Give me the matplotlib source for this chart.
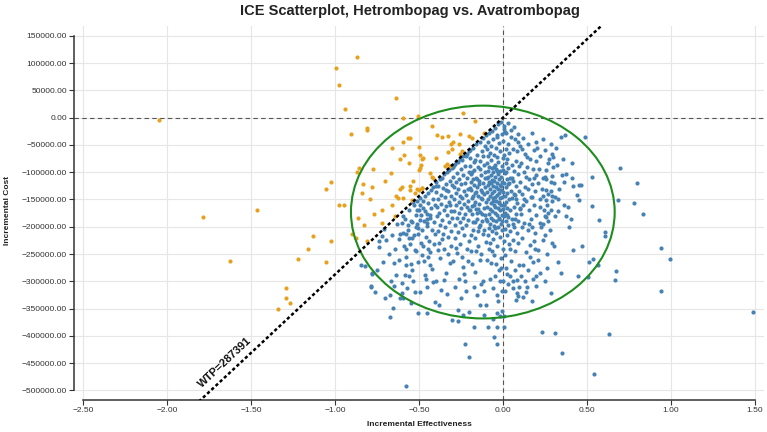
import numpy as np
import matplotlib
matplotlib.use("Agg")
import matplotlib.pyplot as plt
from matplotlib.patches import Ellipse
from matplotlib.ticker import FuncFormatter

plt.rcParams['font.family'] = ['Liberation Sans', 'DejaVu Sans']

# ---------------- data ----------------
title = "ICE Scatterplot, Hetrombopag vs. Avatrombopag"
x_label = "Incremental Effectiveness"
y_label = "Incremental Cost"
wtp = 287391
wtp_label = "WTP=287391"
x_ticks = [-2.5, -2.0, -1.5, -1.0, -0.5, 0.0, 0.5, 1.0, 1.5]
y_ticks = [150000, 100000, 50000, 0, -50000, -100000, -150000, -200000,
           -250000, -300000, -350000, -400000, -450000, -500000]

# confidence ellipse (centre in effect / cost units, full width / height)
ellipse_center = (-0.12, -173000)
ellipse_width = 1.57
ellipse_height = 390000

# simulated pairs (incremental effectiveness, incremental cost in thousands)
pts_upper_left = [
    (-2.048, -4.2), (-0.867, 111.6), (-0.992, 90.9), (-0.976, 59.3), (-0.940, 15.4),
    (-0.639, 36.6), (-0.905, -29.8), (-0.810, -19.4), (-0.810, -23.0), (-0.857, -92.5),
    (-0.867, -98.8), (-0.776, -93.3), (-0.659, -54.9), (-0.667, -100.6), (-0.704, -116.4),
    (-0.831, -120.7), (-1.025, -117.6), (-1.052, -131.0), (-0.839, -138.3), (-0.792, -148.7),
    (-0.976, -161.0), (-0.946, -160.2), (-0.639, -142.7), (-0.659, -159.7), (-0.719, -170.1),
    (-0.766, -177.4), (-0.863, -184.7), (-1.466, -170.1), (-1.786, -182.9), (-0.593, 0.0),
    (-0.593, -44.4), (-0.567, -36.6), (-0.552, -37.1), (-0.502, -54.1), (-0.591, -67.7),
    (-0.611, -75.0), (-0.480, -75.0), (-0.561, -82.3), (-0.488, -87.1), (-0.492, -91.4),
    (-0.502, -95.7), (-0.534, -115.8), (-0.554, -124.4), (-0.603, -126.2), (-0.611, -131.0),
    (-0.514, -131.0), (-0.500, -133.5), (-0.480, -129.1), (-0.554, -133.5), (-0.524, -138.3),
    (-0.623, -148.1), (-0.593, -147.4), (-0.543, -150.5), (-0.825, -196.3), (-0.643, -179.8),
    (-0.720, -193.2), (-0.897, -214.0), (-0.875, -221.3), (-0.810, -226.8), (-1.024, -226.8),
    (-1.133, -216.9), (-1.163, -240.7), (-1.220, -259.0), (-1.052, -264.5), (-1.290, -312.7),
    (-1.292, -331.0), (-1.270, -339.5), (-1.338, -351.2), (-1.625, -263.4), (-0.167, -6.0),
    (-0.236, 9.1), (-0.504, 3.1), (-0.425, -15.2), (-0.391, -31.1), (-0.256, -29.8),
    (-0.111, -27.4), (-0.296, -43.9), (-0.308, -48.1), (-0.260, -48.7), (-0.183, -37.7),
    (-0.246, -60.4), (-0.256, -67.0), (-0.305, -57.2), (-0.326, -62.2), (-0.400, -74.3),
    (-0.335, -85.2), (-0.345, -87.8), (-0.315, -87.8), (-0.478, -74.3), (-0.435, -101.7),
    (-0.425, -107.9), (-0.415, -110.8), (-0.484, -129.1), (-0.326, -33.5), (-0.365, -34.7),
    (-0.202, -33.5), (-0.494, -68.2), (-0.782, -126.2),
]

pts_right_tail = [
    (0.343, -35.9), (0.369, -31.1), (0.486, -35.9), (0.290, -66.4), (0.296, -71.3),
    (0.266, -82.3), (0.321, -87.1), (0.413, -82.3), (0.698, -92.0), (0.256, -95.7),
    (0.240, -110.8), (0.248, -107.9), (0.293, -107.2), (0.349, -105.4), (0.373, -102.4),
    (0.532, -107.9), (0.365, -117.6), (0.419, -124.4), (0.450, -123.1), (0.464, -123.6),
    (0.798, -118.9), (0.258, -133.5), (0.284, -134.6), (0.258, -150.5), (0.240, -144.5),
    (0.290, -144.5), (0.310, -146.3), (0.329, -148.7), (0.290, -153.6), (0.439, -141.4),
    (0.450, -150.5), (0.683, -150.5), (0.780, -156.0), (0.532, -162.8), (0.833, -177.4),
    (0.220, -163.9), (0.260, -160.2), (0.286, -168.8), (0.329, -171.2), (0.389, -163.3),
    (0.375, -181.1), (0.405, -185.8), (0.310, -179.8), (0.248, -181.1), (0.236, -194.4),
    (0.220, -193.1), (0.270, -190.2), (0.256, -182.9), (0.573, -187.7), (0.609, -210.3),
    (0.607, -216.4), (0.304, -234.7), (0.468, -235.9), (0.415, -242.0), (0.940, -238.3),
    (0.996, -259.0), (0.329, -263.9), (0.264, -276.2), (0.347, -284.6), (0.512, -263.9),
    (0.538, -259.0), (0.567, -270.7), (0.446, -290.8), (0.508, -292.6), (0.671, -280.4),
    (0.669, -296.8), (0.938, -318.2), (0.286, -321.9), (1.488, -355.4), (0.230, -392.5),
    (0.307, -393.8), (0.633, -396.2), (0.353, -432.2), (0.540, -470.6), (0.210, -243.3),
    (0.305, -120.0), (0.318, -55.0), (0.335, -130.0), (0.355, -75.0), (0.362, -160.0),
    (0.395, -200.0), (0.410, -110.0),
]

pts_lower_tail = [
    (-0.576, -492.0), (-0.200, -439.0), (-0.224, -415.7), (-0.034, -415.7), (-0.052, -402.4),
    (-0.173, -384.6), (-0.087, -384.1), (-0.034, -383.4), (0.004, -383.4), (-0.306, -370.6),
    (-0.266, -371.8), (-0.270, -353.0), (-0.236, -360.9), (-0.200, -356.7), (-0.115, -361.4),
    (-0.058, -368.2), (-0.034, -357.8), (-0.018, -364.0), (-0.004, -354.8), (0.006, -362.7),
    (-0.508, -358.5), (-0.450, -358.5), (-0.673, -364.5), (-0.657, -348.1), (-0.405, -337.6),
    (-0.383, -342.6), (-0.137, -342.6), (-0.103, -343.9), (-0.032, -335.3), (-0.673, -324.3),
    (-0.603, -321.2), (-0.335, -322.5), (-0.786, -309.1), (-0.736, -237.3), (-0.738, -226.8),
    (-0.845, -269.4), (-0.823, -272.5), (-0.778, -284.6), (-0.713, -265.2), (-0.649, -266.3),
    (-0.577, -269.4), (-0.548, -268.1), (-0.639, -289.0), (-0.583, -289.0), (-0.534, -300.0),
    (-0.603, -302.9), (-0.647, -309.1), (-0.466, -289.0), (-0.444, -256.1), (0.171, -336.5),
    (0.075, -333.4), (0.087, -327.4), (0.117, -328.5), (0.061, -312.0), (0.081, -321.2),
    (0.137, -319.3), (0.143, -310.2), (0.195, -290.8), (0.196, -309.1),
    (-0.577, -240.7), (-0.516, -245.1), (-0.722, -216.4), (-0.659, -215.1), (-0.617, -223.1),
    (-0.611, -214.0), (-0.593, -212.2), (-0.576, -213.3), (-0.558, -220.6), (-0.540, -221.3),
    (-0.528, -215.1), (-0.506, -214.0), (-0.486, -229.2), (-0.629, -194.4), (-0.603, -193.1),
    (-0.564, -196.3), (-0.544, -192.0), (-0.510, -194.4), (-0.494, -187.1), (-0.454, -185.8),
    (-0.450, -193.1), (-0.538, -155.5), (-0.514, -170.1), (-0.498, -170.1), (-0.474, -165.7),
    (-0.454, -176.1), (-0.435, -177.9), (-0.708, -204.1), (-0.504, -202.3),
    (-0.695, -225.0), (-0.680, -250.0), (-0.665, -300.0), (-0.640, -240.0), (-0.620, -260.0),
    (-0.612, -330.0), (-0.750, -280.0), (-0.760, -320.0), (-0.700, -330.0),
    (-0.788, -309.7), (-0.778, -285.9),
]

pts_core_left = [
    (-0.598, -180), (-0.590, -236), (-0.582, -185), (-0.575, -255), (-0.568, -205),
    (-0.561, -170), (-0.553, -232), (-0.546, -190), (-0.539, -280), (-0.532, -160),
    (-0.525, -243), (-0.518, -178), (-0.511, -152), (-0.505, -265), (-0.596, -330),
    (-0.571, -312), (-0.545, -340), (-0.522, -320), (-0.560, -290), (-0.515, -200),
    (-0.497, -148), (-0.492, -161), (-0.488, -178), (-0.483, -205), (-0.479, -236),
    (-0.476, -152), (-0.471, -189), (-0.468, -262), (-0.465, -144), (-0.462, -171),
    (-0.458, -218), (-0.455, -198), (-0.451, -310), (-0.447, -139), (-0.444, -157),
    (-0.441, -226), (-0.437, -183), (-0.433, -247), (-0.430, -133), (-0.427, -166),
    (-0.424, -205), (-0.421, -278), (-0.418, -128), (-0.415, -149), (-0.412, -192),
    (-0.409, -231), (-0.406, -160), (-0.403, -214), (-0.401, -125), (-0.494, -320),
    (-0.461, -295), (-0.436, -270), (-0.417, -302), (-0.448, -241), (-0.485, -252),
    (-0.398, -118), (-0.396, -137), (-0.394, -164), (-0.391, -181), (-0.389, -207),
    (-0.387, -126), (-0.384, -150), (-0.381, -229), (-0.379, -174), (-0.377, -113),
    (-0.374, -196), (-0.372, -258), (-0.369, -141), (-0.367, -158), (-0.364, -110),
    (-0.362, -187), (-0.359, -213), (-0.357, -129), (-0.354, -170), (-0.352, -241),
    (-0.349, -104), (-0.347, -146), (-0.344, -201), (-0.342, -162), (-0.339, -285),
    (-0.337, -121), (-0.334, -178), (-0.331, -99), (-0.329, -219), (-0.327, -135),
    (-0.324, -154), (-0.322, -192), (-0.319, -96), (-0.317, -266), (-0.314, -116),
    (-0.312, -171), (-0.309, -143), (-0.307, -208), (-0.304, -92), (-0.302, -184),
    (-0.396, -300), (-0.371, -315), (-0.353, -297), (-0.326, -250), (-0.311, -236),
    (-0.388, -243), (-0.341, -132), (-0.316, -160), (-0.366, -223), (-0.305, -124),
]

pts_core_mid_left = [
    (-0.298, -90), (-0.296, -108), (-0.294, -127), (-0.292, -149), (-0.290, -171),
    (-0.288, -196), (-0.286, -85), (-0.284, -221), (-0.282, -118), (-0.280, -139),
    (-0.278, -160), (-0.276, -183), (-0.274, -101), (-0.272, -248), (-0.270, -130),
    (-0.268, -209), (-0.266, -82), (-0.264, -154), (-0.262, -175), (-0.260, -113),
    (-0.258, -191), (-0.256, -143), (-0.254, -232), (-0.252, -95), (-0.250, -166),
    (-0.248, -122), (-0.246, -203), (-0.244, -77), (-0.242, -148), (-0.240, -184),
    (-0.238, -106), (-0.236, -274), (-0.234, -135), (-0.232, -158), (-0.230, -215),
    (-0.228, -88), (-0.226, -177), (-0.224, -120), (-0.222, -141), (-0.220, -196),
    (-0.218, -70), (-0.216, -163), (-0.214, -240), (-0.212, -110), (-0.210, -187),
    (-0.208, -131), (-0.206, -152), (-0.204, -99), (-0.202, -170), (-0.201, -226),
    (-0.297, -262), (-0.285, -310), (-0.261, -295), (-0.249, -330), (-0.233, -287),
    (-0.219, -318), (-0.211, -262), (-0.279, -238), (-0.243, -256), (-0.227, -300),
    (-0.289, -86), (-0.257, -76), (-0.237, -71), (-0.215, -66), (-0.205, -62),
    (-0.199, -60), (-0.197, -74), (-0.195, -89), (-0.193, -103), (-0.191, -118),
    (-0.189, -133), (-0.187, -147), (-0.185, -162), (-0.183, -176), (-0.181, -191),
    (-0.179, -55), (-0.177, -206), (-0.175, -82), (-0.173, -124), (-0.171, -96),
    (-0.169, -139), (-0.167, -154), (-0.165, -221), (-0.163, -110), (-0.161, -168),
    (-0.159, -49), (-0.157, -185), (-0.155, -69), (-0.153, -127), (-0.151, -143),
    (-0.149, -235), (-0.147, -91), (-0.145, -200), (-0.143, -158), (-0.141, -116),
    (-0.139, -45), (-0.137, -173), (-0.135, -79), (-0.133, -250), (-0.131, -132),
    (-0.129, -105), (-0.127, -189), (-0.125, -150), (-0.123, -62), (-0.121, -214),
    (-0.119, -120), (-0.117, -38), (-0.115, -165), (-0.113, -86), (-0.111, -140),
    (-0.109, -179), (-0.107, -99), (-0.105, -52), (-0.103, -228), (-0.101, -155),
    (-0.198, -170), (-0.192, -244), (-0.188, -215), (-0.184, -268), (-0.178, -112),
    (-0.174, -160), (-0.168, -191), (-0.164, -283), (-0.158, -136), (-0.154, -174),
    (-0.148, -208), (-0.144, -121), (-0.138, -260), (-0.134, -196), (-0.128, -148),
    (-0.124, -177), (-0.118, -299), (-0.114, -205), (-0.108, -127), (-0.104, -186),
    (-0.196, -129), (-0.186, -100), (-0.176, -144), (-0.166, -77), (-0.156, -113),
    (-0.146, -168), (-0.136, -95), (-0.126, -137), (-0.116, -71), (-0.106, -110),
    (-0.172, -310), (-0.152, -325), (-0.132, -305), (-0.112, -318), (-0.162, -245),
]

pts_core_centre = [
    (-0.099, -32), (-0.098, -58), (-0.097, -84), (-0.096, -111), (-0.095, -137),
    (-0.094, -163), (-0.093, -189), (-0.092, -215), (-0.091, -45), (-0.090, -71),
    (-0.089, -97), (-0.088, -124), (-0.087, -150), (-0.086, -176), (-0.085, -202),
    (-0.084, -241), (-0.083, -29), (-0.082, -118), (-0.081, -91), (-0.080, -143),
    (-0.079, -167), (-0.078, -194), (-0.077, -64), (-0.076, -229), (-0.075, -130),
    (-0.074, -105), (-0.073, -156), (-0.072, -183), (-0.071, -52), (-0.070, -266),
    (-0.069, -78), (-0.068, -139), (-0.067, -115), (-0.066, -208), (-0.065, -171),
    (-0.064, -24), (-0.063, -93), (-0.062, -148), (-0.061, -125), (-0.060, -187),
    (-0.059, -40), (-0.058, -222), (-0.057, -100), (-0.056, -160), (-0.055, -134),
    (-0.054, -68), (-0.053, -198), (-0.052, -117), (-0.051, -252), (-0.050, -175),
    (-0.049, -86), (-0.048, -145), (-0.047, -19), (-0.046, -109), (-0.045, -164),
    (-0.044, -56), (-0.043, -212), (-0.042, -128), (-0.041, -190), (-0.040, -95),
    (-0.039, -153), (-0.038, -35), (-0.037, -120), (-0.036, -178), (-0.035, -73),
    (-0.034, -235), (-0.033, -142), (-0.032, -104), (-0.031, -166), (-0.030, -12),
    (-0.029, -201), (-0.028, -131), (-0.027, -82), (-0.026, -157), (-0.025, -113),
    (-0.024, -280), (-0.023, -184), (-0.022, -47), (-0.021, -138), (-0.020, -219),
    (-0.019, -97), (-0.018, -170), (-0.017, -124), (-0.016, -61), (-0.015, -148),
    (-0.014, -195), (-0.013, -8), (-0.012, -108), (-0.011, -258), (-0.010, -160),
    (-0.009, -133), (-0.008, -88), (-0.007, -179), (-0.006, -30), (-0.005, -145),
    (-0.004, -118), (-0.003, -206), (-0.002, -74), (-0.001, -168), (-0.0005, -240),
    (-0.093, -260), (-0.079, -295), (-0.062, -312), (-0.045, -290), (-0.033, -325),
    (-0.018, -300), (-0.008, -318), (-0.066, -245), (-0.041, -268), (-0.014, -275),
    (-0.087, -108), (-0.058, -152), (-0.037, -98), (-0.026, -185), (-0.011, -126),
    (-0.069, -120), (-0.047, -203), (-0.023, -154), (-0.004, -190), (-0.055, -90),
    (-0.038, -31.0), (0.012, -26.7),
]

pts_core_right = [
    (0.001, -42), (0.002, -96), (0.003, -137), (0.004, -181), (0.005, -226),
    (0.006, -15), (0.007, -119), (0.008, -160), (0.009, -68), (0.010, -204),
    (0.011, -143), (0.012, -102), (0.013, -251), (0.014, -174), (0.015, -57),
    (0.016, -128), (0.017, -190), (0.018, -84), (0.019, -155), (0.020, -28),
    (0.021, -215), (0.022, -112), (0.023, -166), (0.024, -75), (0.025, -139),
    (0.026, -287), (0.027, -197), (0.028, -48), (0.029, -122), (0.030, -182),
    (0.032, -93), (0.034, -150), (0.036, -232), (0.038, -65), (0.040, -170),
    (0.042, -110), (0.044, -208), (0.046, -35), (0.048, -134), (0.050, -262),
    (0.052, -86), (0.054, -186), (0.056, -147), (0.058, -58), (0.060, -224),
    (0.062, -117), (0.064, -163), (0.066, -98), (0.068, -200), (0.070, -40),
    (0.072, -141), (0.074, -245), (0.076, -79), (0.078, -176), (0.080, -125),
    (0.082, -62), (0.084, -212), (0.086, -156), (0.088, -104), (0.090, -189),
    (0.092, -30), (0.094, -135), (0.096, -270), (0.098, -88), (0.099, -168),
    (0.003, -300), (0.011, -318), (0.019, -275), (0.031, -305), (0.043, -290),
    (0.057, -300), (0.069, -280), (0.083, -297), (0.095, -310), (0.007, -20),
    (0.027, -10), (0.047, -22), (0.065, -18), (0.087, -45), (0.015, -100),
    (0.037, -120), (0.059, -195), (0.079, -150), (0.005, -160), (0.041, -240),
    (0.063, -140), (0.091, -230), (0.024, -178), (0.052, -110), (0.071, -185),
    (0.101, -52), (0.104, -118), (0.107, -176), (0.110, -84), (0.113, -140),
    (0.116, -221), (0.119, -37), (0.122, -161), (0.125, -100), (0.128, -193),
    (0.131, -66), (0.134, -128), (0.137, -247), (0.140, -152), (0.143, -90),
    (0.146, -205), (0.149, -48), (0.152, -170), (0.155, -113), (0.158, -233),
    (0.161, -75), (0.164, -145), (0.167, -186), (0.170, -28), (0.173, -122),
    (0.176, -265), (0.179, -95), (0.182, -160), (0.185, -60), (0.188, -212),
    (0.191, -135), (0.194, -105), (0.197, -178), (0.199, -44),
    (0.106, -290), (0.118, -270), (0.133, -300), (0.148, -280), (0.163, -255),
    (0.178, -295), (0.192, -240), (0.112, -200), (0.127, -150), (0.141, -73),
    (0.156, -195), (0.171, -146), (0.186, -110), (0.103, -165), (0.138, -108),
    (0.175, -200), (0.115, -58), (0.150, -130), (0.183, -226), (0.196, -80),
    (0.203, -55), (0.208, -120), (0.213, -95), (0.218, -150), (0.223, -70),
    (0.228, -200), (0.233, -130), (0.238, -40), (0.243, -170), (0.248, -215),
    (0.253, -60), (0.258, -112), (0.263, -250), (0.268, -140), (0.273, -75),
    (0.278, -205), (0.283, -118), (0.288, -48), (0.293, -230), (0.298, -90),
    (0.206, -260), (0.221, -285), (0.236, -225), (0.251, -300), (0.266, -175),
]

# ---------------- figure ----------------
all_pts = np.array(pts_upper_left + pts_right_tail + pts_lower_tail + pts_core_left
                   + pts_core_mid_left + pts_core_centre + pts_core_right, dtype=float)
effect = all_pts[:, 0]
cost = all_pts[:, 1] * 1000.0
not_ce = cost > wtp * effect   # above the WTP threshold

W, H = 767, 432
fig = plt.figure(figsize=(W / 100, H / 100), dpi=100)
ax = fig.add_axes([74 / W, 1 - 400 / H, (764 - 74) / W, (400 - 26) / H])
ax.set_xlim(-2.554, 1.554)
ax.set_ylim(-517500, 168000)

ax.set_xticks(x_ticks)
ax.set_yticks(y_ticks)
fmt = FuncFormatter(lambda v, p: f"{v:.2f}".replace('-', '\u2212'))
ax.xaxis.set_major_formatter(fmt)
ax.yaxis.set_major_formatter(fmt)
ax.grid(True, color='#e6e6e6', lw=0.8, zorder=0)
ax.set_axisbelow(True)
for s in ['top', 'right']:
    ax.spines[s].set_visible(False)
for s in ['left', 'bottom']:
    ax.spines[s].set_color('#333333')
    ax.spines[s].set_linewidth(1.1)
ax.spines['left'].set_bounds(min(y_ticks), max(y_ticks))
ax.spines['bottom'].set_bounds(min(x_ticks), max(x_ticks))
ax.tick_params(length=3.5, width=0.8, color='#333333', labelsize=6,
               labelcolor='#333333', pad=1.5)

ax.axhline(0, color='#555555', lw=0.8, ls=(0, (4, 3)), zorder=1.5)
ax.axvline(0, color='#555555', lw=0.8, ls=(0, (4, 3)), zorder=1.5)

ax.scatter(effect[~not_ce], cost[~not_ce], s=9, c='#4682b4', lw=0, zorder=3)
ax.scatter(effect[not_ce], cost[not_ce], s=9, c='#e6a11f', lw=0, zorder=3)

ax.add_patch(Ellipse(ellipse_center, ellipse_width, ellipse_height, fill=False,
                     ec='#1e8c1e', lw=1.5, zorder=4))

xl = np.array(ax.get_xlim())
ax.plot(xl, wtp * xl, color='black', lw=1.8, dashes=(1.3, 1.0), zorder=5)

p0 = ax.transData.transform((0, 0))
p1 = ax.transData.transform((1, wtp))
angle = np.degrees(np.arctan2(p1[1] - p0[1], p1[0] - p0[0]))
x0 = -1.76
ax.annotate(wtp_label, xy=(x0, wtp * x0), xytext=(-3, 3), textcoords='offset points',
            rotation=angle, rotation_mode='anchor', ha='left', va='bottom',
            fontsize=8, fontweight='bold', color='#111111', zorder=6)

fig.text(410 / W, 1 - 11 / H, title, ha='center', va='center', fontsize=10.5,
         fontweight='bold', color='#222222')
fig.text(419 / W, 1 - 424 / H, x_label, ha='center', va='center', fontsize=6,
         fontweight='bold', color='#222222')
fig.text(8 / W, 1 - 210 / H, y_label, ha='center', va='center', rotation=90,
         fontsize=6, fontweight='bold', color='#222222')

fig.savefig('out.png', dpi=100)
